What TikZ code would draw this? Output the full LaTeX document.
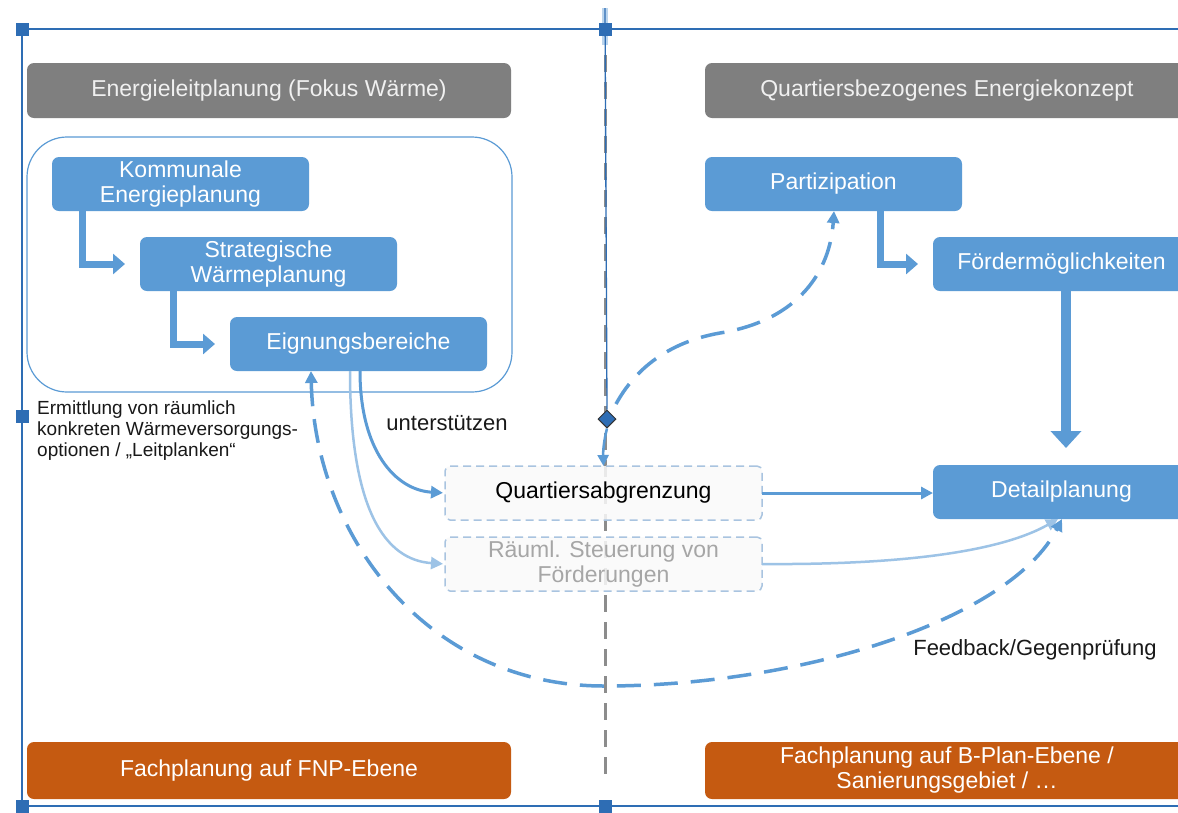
\documentclass[tikz,border=0pt]{standalone}
\usepackage{fontspec}
\setmainfont{Liberation Sans}
\usetikzlibrary{arrows.meta,shapes.geometric}
\definecolor{mblue}{HTML}{5B9BD5}
\definecolor{hgray}{HTML}{7F7F7F}
\definecolor{orng}{HTML}{C55A11}
\definecolor{selblue}{HTML}{2E6DB4}
\definecolor{lblue}{HTML}{9DC3E6}
\definecolor{dashbox}{HTML}{A9C4E0}
\definecolor{sepgray}{HTML}{8C8C8C}
\begin{document}
\begin{tikzpicture}[x=1pt,y=-1pt,
 box/.style={rectangle, anchor=north west, inner sep=0pt, outer sep=0pt, align=center, font=\fontsize{23}{25}\selectfont},
 hdr/.style={box, fill=hgray, text=white!94!black, rounded corners=7pt, minimum width=484pt, minimum height=55pt},
 bbox/.style={box, fill=mblue, text=white, rounded corners=7pt, minimum width=257pt, minimum height=54pt},
 obox/.style={box, fill=orng, text=white, rounded corners=7pt, minimum width=484pt, minimum height=57pt},
 dbox/.style={box, draw=dashbox, line width=1.5pt, dash pattern=on 8pt off 5pt, fill=gray!4, fill opacity=0.85, text opacity=1, rounded corners=5pt, minimum width=317pt, minimum height=54pt},
 blockarrow/.style={draw=mblue, line width=7pt, -{Triangle[length=12pt,width=20pt]}, shorten >=15pt},
 bigarrow/.style={draw=mblue, line width=10pt, -{Triangle[length=17pt,width=30pt]}, shorten >=17pt},
 conn/.style={draw=mblue, line width=3pt, -{Triangle[length=12pt,width=12pt]}},
 lconn/.style={draw=lblue, line width=2.5pt, -{Triangle[length=12pt,width=12pt]}},
 fb/.style={draw=mblue, line width=3.5pt, dash pattern=on 24pt off 13pt, {Triangle[length=12pt,width=12pt]}-{Triangle[length=12pt,width=12pt]}},
 fbone/.style={draw=mblue, line width=3.5pt, dash pattern=on 24pt off 13pt, -{Triangle[length=12pt,width=12pt]}},
 handle/.style={rectangle, fill=selblue, minimum size=13pt, inner sep=0pt},
 lbl/.style={inner sep=0pt, text=black!90}
]
\useasboundingbox (0,0) rectangle (1178,812);
\clip (0,0) rectangle (1178,812);
\fill[white] (0,0) rectangle (1178,812);

% separator
\draw[sepgray, line width=3pt, dash pattern=on 17pt off 10pt] (605,55) -- (605,778);
\draw[lblue, line width=6pt, opacity=0.7] (605,8) -- (605,45);

% headers
\node[hdr] (h1) at (27,63) {Energieleitplanung (Fokus Wärme)};
\node[hdr] (h2) at (705,63) {Quartiersbezogenes Energiekonzept};

% group outline
\draw[mblue, line width=1.2pt, rounded corners=40pt] (27,137) rectangle (512,392);

% blue boxes
\node[bbox] (kom) at (52,157) {Kommunale\\Energieplanung};
\node[bbox] (str) at (140,237) {Strategische\\Wärmeplanung};
\node[bbox] (eig) at (230,317) {Eignungsbereiche};
\node[bbox] (part) at (705,157) {Partizipation};
\node[bbox] (foer) at (933,237) {Fördermöglichkeiten};
\node[bbox] (det) at (933,465) {Detailplanung};

% dashed boxes
\node[dbox] (quart) at (445,466) {Quartiersabgrenzung};
\node[dbox, text=black!35] (raeu) at (445,537) {Räuml. Steuerung von\\Förderungen};

% orange boxes
\node[obox] (o1) at (27,742) {Fachplanung auf FNP-Ebene};
\node[obox] (o2) at (705,742) {Fachplanung auf B-Plan-Ebene /\\Sanierungsgebiet / …};

% block arrows
\draw[blockarrow] ([xshift=30pt]kom.south west) |- (str.west);
\draw[blockarrow] ([xshift=33pt]str.south west) |- (eig.west);
\draw[blockarrow] ([xshift=175pt]part.south west) |- (foer.west);
\draw[bigarrow] ([xshift=133pt]foer.south west) -- ([xshift=133pt]det.north west);

% connectors
\draw[conn, shorten >=2pt] ([xshift=130pt]eig.south west) .. controls (360,450) and (395,490) .. (quart.west);
\draw[lconn, shorten >=2pt] ([xshift=120pt]eig.south west) .. controls (350,510) and (385,560) .. (raeu.west);
\draw[conn] (quart.east) -- (quart.east -| det.west);
\draw[lconn] (raeu.east) .. controls (900,565) and (1000,552) .. ([xshift=125pt]det.south west);
\draw[fb] ([xshift=81pt]eig.south west) .. controls (315,540) and (430,686) .. (604,686) .. controls (800,686) and (1010,620) .. ([xshift=129pt]det.south west);

% selection line and diamond
\node[diamond, fill=selblue, draw=black!80, line width=1pt, minimum size=18pt, inner sep=0pt] (dia) at (607,419) {};
\draw[selblue, line width=1.3pt] (605,8) -- (dia.north);
\draw[draw=mblue, line width=2.5pt, -{Triangle[length=11pt,width=11pt]}] (dia.south) .. controls (604,440) and (603,450) .. (quart.north);
\coordinate (qs) at (616,404);
\draw[fbone] (qs) .. controls (640,360) and (680,340) .. (720,333) .. controls (800,320) and (830,270) .. ([xshift=129pt]part.south west);

% frame
\draw[selblue, line width=2.5pt] (1180,29) -- (22,29) -- (22,806) -- (1180,806);
\node[handle] (s1) at (22,29) {};
\node[handle] (s2) at (605,29) {};
\node[handle] (s3) at (22,416) {};
\node[handle] (s4) at (22,806) {};
\node[handle] (s5) at (605,806) {};

% labels
\node[lbl, anchor=north west, align=left, font=\fontsize{19}{21}\selectfont] (ermi) at (37,401) {Ermittlung von räumlich\\konkreten Wärmeversorgungs-\\optionen / „Leitplanken“};
\node[lbl, font=\fontsize{22}{25}\selectfont] (unt) at (447,423) {unterstützen};
\node[lbl, font=\fontsize{22}{25}\selectfont] (fbl) at (1035,650) {Feedback/Gegenprüfung};
\end{tikzpicture}
\end{document}
